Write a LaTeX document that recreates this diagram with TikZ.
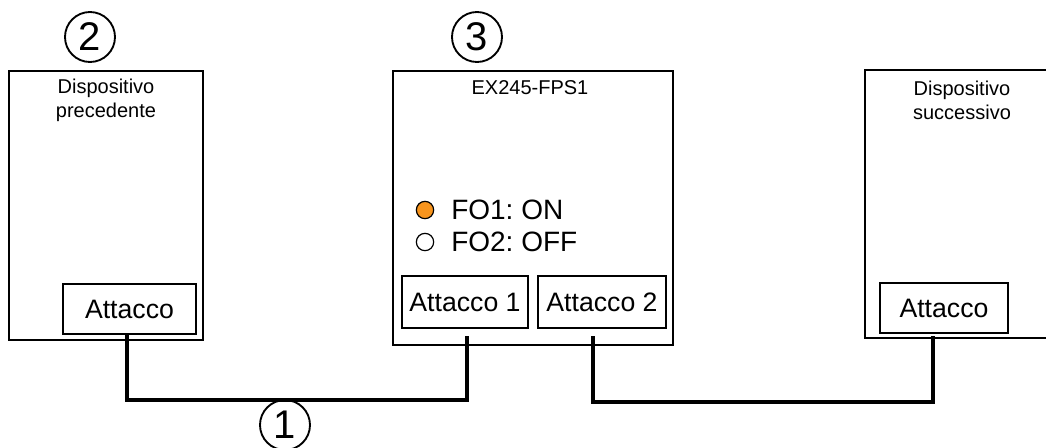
\documentclass[tikz,border=0pt]{standalone}
\usepackage{fontspec}
\setmainfont{Liberation Sans}
\usetikzlibrary{calc,positioning}
\frenchspacing

\tikzset{
  devbox/.style={draw,line width=1.2pt,inner sep=0pt},
  portbox/.style={draw,line width=1.2pt,inner sep=0pt,font=\fontsize{20}{24}\selectfont},
  devtitle/.style={align=center,inner sep=0pt,font=\fontsize{15}{18}\selectfont},
  ledtext/.style={anchor=west,inner sep=0pt,font=\fontsize{21}{24}\selectfont},
  led/.style={circle,draw,line width=0.9pt,inner sep=0pt,minimum size=13pt},
  marker/.style={circle,draw,line width=1.4pt,inner sep=0pt,minimum size=37.5pt,font=\fontsize{30}{32}\selectfont},
  cable/.style={line width=3pt}
}
\definecolor{ledon}{RGB}{247,148,29}

\begin{document}
\begin{tikzpicture}[x=0.75pt,y=-0.75pt]
\fill[white] (0,0) rectangle (1046,447);
\useasboundingbox (0,0) rectangle (1046,447);

% devices
\node[devbox,minimum width=194*0.75pt,minimum height=269*0.75pt] (prev) at (106,205.5) {};
\node[devbox,minimum width=280*0.75pt,minimum height=274*0.75pt] (fps) at (533,208) {};
\node[devbox,minimum width=185*0.75pt,minimum height=268*0.75pt] (next) at (957.5,204) {};

\node[devtitle] (prevname) at (106,100) {Dispositivo\\precedente};
\node[devtitle] (fpsname) at (530,88) {EX245-FPS1};
\node[devtitle] (nextname) at (962,100) {Dispositivo\\successivo};

% ports
\node[portbox,minimum width=133*0.75pt,minimum height=50*0.75pt] (prevport) at (129.5,309) {Attacco};
\node[portbox,minimum width=126*0.75pt,minimum height=52*0.75pt] (port1) at (465,302) {Attacco 1};
\node[portbox,minimum width=128*0.75pt,minimum height=52*0.75pt] (port2) at (602,302) {Attacco 2};
\node[portbox,minimum width=128*0.75pt,minimum height=50*0.75pt] (nextport) at (944,308) {Attacco};

% status leds
\node[led,fill=ledon] (fo1) at (425,210) {};
\node[led,fill=white] (fo2) at (425,242) {};
\node[ledtext] (fo1text) at (451,210) {FO1: ON};
\node[ledtext] (fo2text) at (451,242) {FO2: OFF};

% cables
\coordinate (a1) at (127,334);
\coordinate (a2) at (467,336);
\coordinate (b1) at (593,336);
\coordinate (b2) at (933,336);
\draw[cable] (a1) -- ++(0,66) -| (a2);
\draw[cable] (b1) -- ++(0,66) -| (b2);

% numbered markers
\node[marker] (m1) at (285,425) {1};
\node[marker] (m2) at (90,37) {2};
\node[marker] (m3) at (477,37) {3};
\end{tikzpicture}
\end{document}
